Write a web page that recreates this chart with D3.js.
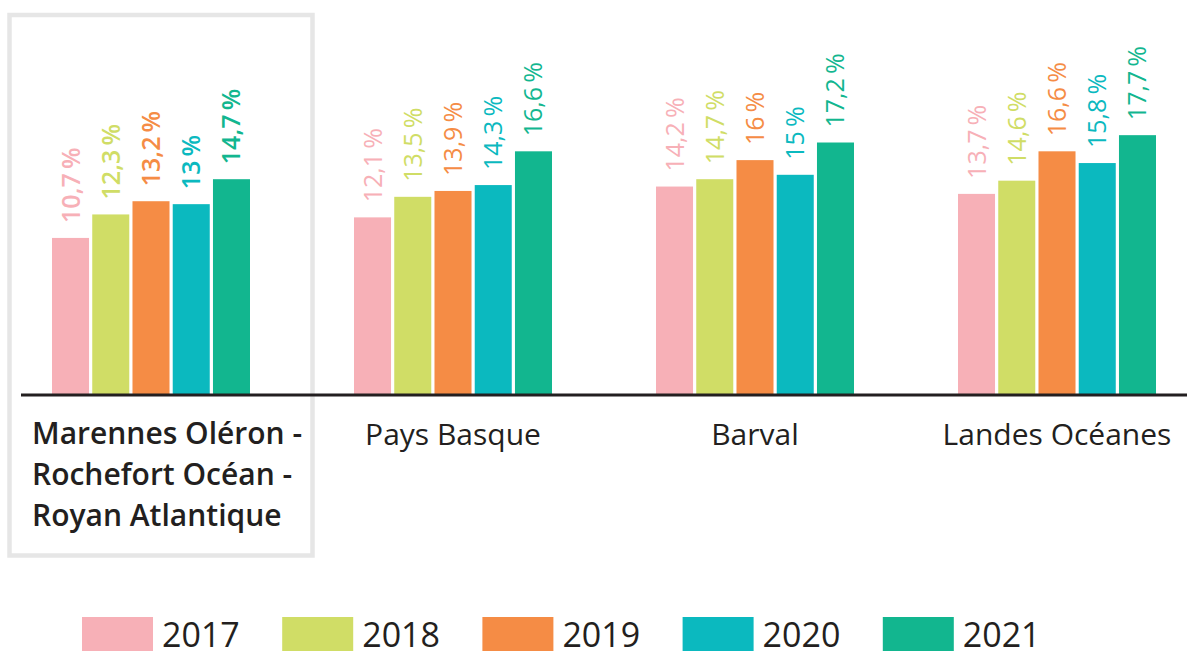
<!DOCTYPE html>
<html>
<head>
<meta charset="utf-8">
<script src="https://cdn.jsdelivr.net/npm/d3@7"></script>
<style>
  html, body { margin: 0; padding: 0; background: #ffffff; }
  svg { display: block; }
  text { font-family: "Open Sans", "Noto Sans", sans-serif; fill: #231f20; }
</style>
</head>
<body>
<svg id="chart" width="1202" height="651"></svg>
<script>
// ---- data ----
const categories = ["Marennes Oléron - Rochefort Océan - Royan Atlantique", "Pays Basque", "Barval", "Landes Océanes"];
const highlightLines = ["Marennes Oléron -", "Rochefort Océan -", "Royan Atlantique"];
const years = ["2017", "2018", "2019", "2020", "2021"];
const v2017 = [10.7, 12.1, 14.2, 13.7];
const v2018 = [12.3, 13.5, 14.7, 14.6];
const v2019 = [13.2, 13.9, 16, 16.6];
const v2020 = [13, 14.3, 15, 15.8];
const v2021 = [14.7, 16.6, 17.2, 17.7];
const colors = ["#f7b0b7", "#d0dd66", "#f58c45", "#0bb9bf", "#12b68f"];
const highlightIndex = 0;

const seriesValues = [v2017, v2018, v2019, v2020, v2021];
const rows = categories.map((c, i) => ({
  cat: c, idx: i,
  vals: years.map((y, j) => ({ year: y, j, v: seriesValues[j][i] }))
}));

// ---- layout ----
const svg = d3.select("#chart");
const baseY = 395;
const x0 = d3.scaleBand().domain(categories).range([52, 1156]).paddingInner(0.3444).paddingOuter(0);
const x1 = d3.scaleBand().domain(years).range([0, x0.bandwidth()]).paddingInner(0.08).paddingOuter(0);
const y = d3.scaleLinear().domain([0, 20]).range([baseY, baseY - 293.6]);
const color = d3.scaleOrdinal().domain(years).range(colors);

// highlight box
svg.append("rect")
  .attr("x", 9.5).attr("y", 15)
  .attr("width", 303).attr("height", 540.5)
  .attr("fill", "none").attr("stroke", "#e6e6e6").attr("stroke-width", 4.5);

// bars
const groups = svg.selectAll("g.grp").data(rows).join("g")
  .attr("class", "grp")
  .attr("transform", d => `translate(${x0(d.cat)},0)`);

groups.selectAll("rect").data(d => d.vals).join("rect")
  .attr("x", d => x1(d.year))
  .attr("y", d => y(d.v))
  .attr("width", x1.bandwidth())
  .attr("height", d => y(0) - y(d.v))
  .attr("fill", d => color(d.year));

// value labels
const fmt = v => String(v).replace(".", ",") + "\u2009%";
groups.each(function(row) {
  d3.select(this).selectAll("text.val").data(row.vals).join("text")
    .attr("class", "val")
    .attr("transform", d => `translate(${x1(d.year) + x1.bandwidth() / 2},${y(d.v) - 15}) rotate(-90)`)
    .attr("text-anchor", "start")
    .attr("dy", "0.36em")
    .style("font-size", "25px")
    .style("font-weight", row.idx === highlightIndex ? 600 : 400)
    .style("fill", d => color(d.year))
    .text(d => fmt(d.v));
});

// axis baseline
const axis = d3.axisBottom(x0).tickSize(0).tickFormat("");
const axisG = svg.append("g").attr("transform", `translate(0,${baseY})`).call(axis);
axisG.select(".domain").attr("d", `M21,0H1187`).attr("stroke", "#231f20").attr("stroke-width", 3);

// category labels
rows.forEach(row => {
  if (row.idx === highlightIndex) {
    const t = svg.append("text")
      .attr("x", x0(row.cat) - 20).attr("y", 443)
      .style("font-size", "30px").style("font-weight", 600);
    highlightLines.forEach((ln, k) => {
      t.append("tspan").attr("x", x0(row.cat) - 20).attr("y", 444 + k * 41).text(ln);
    });
  } else {
    svg.append("text")
      .attr("x", x0(row.cat) + x0.bandwidth() / 2).attr("y", 445)
      .attr("text-anchor", "middle")
      .style("font-size", "30px")
      .text(row.cat);
  }
});

// legend
const lx = d3.scaleBand().domain(years).range([82, 1083]).paddingInner(0).paddingOuter(0);
const leg = svg.selectAll("g.leg").data(years).join("g")
  .attr("class", "leg")
  .attr("transform", d => `translate(${lx(d)},617)`);
leg.append("rect").attr("width", 71).attr("height", 40).attr("fill", d => color(d));
leg.append("text").attr("x", 80).attr("y", 30).style("font-size", "34px").text(d => d);
</script>
</body>
</html>
